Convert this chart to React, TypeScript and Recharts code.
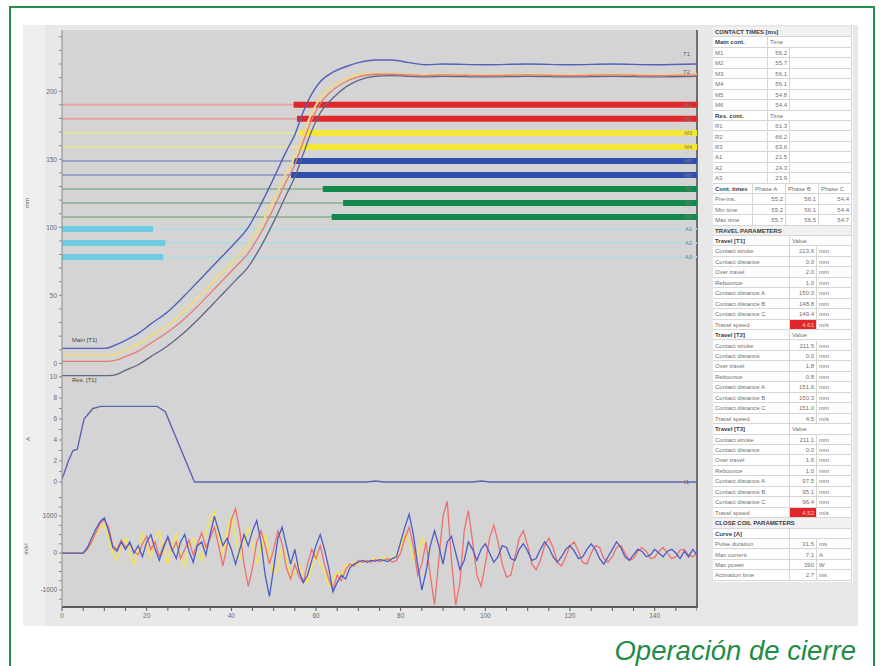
import React from "react";
import { LineChart, Line, XAxis, YAxis, ReferenceLine } from "recharts";

// ---- travel (mm) vs time (ms) ----
const TRAVEL_T = [0, 5, 10, 11, 13, 15, 18, 21, 25, 29, 33, 37, 41, 44, 47, 50, 53, 55, 57, 59, 61, 64, 67, 70, 74, 78, 82, 86, 90, 100, 110, 120, 130, 140, 150];
const TRAVEL_MAIN = [11, 11, 11, 11.5, 14, 17, 22, 29, 38, 50, 63, 76, 89, 100, 117, 136, 156, 168, 185, 198, 207, 214, 218, 221, 223, 223, 221, 219.5, 220, 219.5, 220, 219.5, 220, 219.5, 220];
const TRAVEL_YELLOW = [6, 6, 6, 6, 7, 10, 14, 20, 28, 39, 51, 64, 77, 87, 102, 120, 140, 152, 168, 184, 195, 204, 209, 212, 213, 213, 212.5, 212, 212.5, 212, 212.5, 212, 212.5, 212, 212.5];
const TRAVEL_RED = [1.5, 1.5, 1.5, 1.5, 2.5, 5, 9, 15, 23, 33, 45, 58, 71, 81, 96, 114, 134, 146, 163, 179, 191, 201, 207, 210.5, 212.5, 212.5, 212, 211.5, 212, 211.5, 212, 211.5, 212, 211.5, 212];
const TRAVEL_RES = [-9, -9, -9, -9, -8, -5, -1, 5, 13, 23, 35, 48, 61, 71, 86, 104, 124, 137, 154, 171, 184, 195, 203, 208, 211, 211.5, 211, 210.5, 211, 210.5, 211, 210.5, 211, 210.5, 211];
const TRAVEL_TICKS = [-10, 0, 10, 20, 30, 40, 50, 60, 70, 80, 90, 100, 110, 120, 130, 140, 150, 160, 170, 180, 190, 200, 210, 220, 230, 240];

// ---- contact channels drawn on the travel panel ----
const CONTACT_NAMES = ["M1", "M2", "M3", "M4", "M5", "M6", "R1", "R2", "R3", "A1", "A2", "A3"];
const CONTACT_LEVEL = [190, 179.7, 169.4, 159.1, 148.8, 138.5, 128.2, 117.9, 107.6, 98.8, 88.5, 78.2];
const CONTACT_FROM = [54.7, 55.5, 56.2, 56.5, 54.7, 54.1, 61.6, 66.4, 63.7, 0, 0, 0];
const CONTACT_TO = [150, 150, 150, 150, 150, 150, 150, 150, 150, 21.5, 24.4, 23.9];
const CONTACT_COLOR = ["#e2272b", "#e2272b", "#f3e835", "#f3e835", "#2e4eb0", "#2e4eb0", "#128a4c", "#128a4c", "#128a4c", "#6fcbe3", "#6fcbe3", "#6fcbe3"];
const CONTACT_THIN = ["#e7a3a0", "#e7a3a0", "#e6e2a4", "#e6e2a4", "#9ca3c9", "#9ca3c9", "#9cb8a2", "#9cb8a2", "#9cb8a2", "#b7d9e0", "#b7d9e0", "#b7d9e0"];

// ---- close coil current (A) ----
const COIL_T = [0, 0.5, 1.5, 2.6, 3.6, 5.2, 7.3, 9.2, 22.5, 24.4, 31.3, 60, 72, 74, 76, 97, 99, 101, 150];
const COIL_A = [0.3, 0.8, 2.0, 3.0, 3.1, 6.0, 7.0, 7.2, 7.2, 6.7, 0, 0, 0, 0.1, 0, 0, 0.1, 0, 0];
const COIL_TICKS = [0, 1, 2, 3, 4, 5, 6, 7, 8, 9, 10];

// ---- vibration, one sample per ms ----
const VIB_BLUE = [
  0, 0, 0, 0, 0, 0, 150, 400, 650, 850, 950,
  600, 150, 50, 300, 100, 300, 0, 200, -100, 300,
  500, 100, -200, 150, 450, 100, -150, 300, 500, 50,
  -250, 200, 300, -50, 500, 1000, 600, 200, 400, 100,
  -300, 100, 500, 200, 600, 880, 300, -600, -1170, -400,
  400, 700, 200, -300, 100, -500, -800, -600, -200, 200,
  500, 100, -400, -1050, -800, -600, -700, -400, -300, -250,
  -200, -250, -200, -220, -180, -200, -230, -150, -100, 300,
  700, 1050, 500, -300, -1000, -500, 200, 600, 200, -300,
  300, 450, 0, -450, -200, 300, 100, -200, 100, 250,
  0, -250, -100, 200, 150, -150, -200, 100, 250, 50,
  -200, -150, 100, 300, 150, -100, -250, -100, 100, 200,
  50, -150, -100, 100, 250, 100, -150, -300, -100, 100,
  300, 150, -100, -200, -50, 100, 50, -100, -50, 100,
  0, -100, 50, 100, 0, -150, 50, -100, 100, -50,
];
const VIB_RED = [
  0, 0, 0, 0, 0, 0, 100, 300, 550, 800, 900,
  700, 200, 100, 350, 150, 250, 50, -50, 250, 450,
  100, 300, -100, 200, 400, 50, 300, -150, 100, 350,
  -50, 250, 550, 150, 400, 700, 200, -350, 200, 900,
  1200, 600, -300, -900, -400, 300, 600, 200, -300, 100,
  600, 250, -400, -700, -300, -650, -800, -300, 100, -150,
  200, -300, -700, -1000, -600, -750, -450, -300, -350, -200,
  -250, -200, -250, -180, -230, -200, -150, -250, -200, 0,
  400, 700, 200, -600, -300, 300, -600, -1400, -200, 1000,
  1400, -200, -1400, -800, 600, 1150, 300, -600, -900, -300,
  400, 750, 300, -300, -650, -600, -100, 400, 600, 200,
  -300, -450, -200, 200, 400, 150, -250, -350, -100, 200,
  300, 50, -250, -300, 0, 200, 150, -150, -250, -100,
  150, 200, 0, -200, -150, 50, 150, 50, -150, -120,
  50, 150, 0, -150, -100, 80, 100, -50, -100, 0,
];
const VIB_YELLOW = [
  0, 0, 0, 0, 0, 0, 100, 300, 500, 700, 750,
  400, 0, -200, 200, 400, 0, -300, 100, 500, 200,
  -100, 400, 600, 100, -300, 250, 500, -100, -350, 200,
  400, 0, -200, 500, 900, 1100, 500, 0, 600, 1000,
  400, -200, 300, 700, 200, -300, 100, 500, 0, -600,
  -400, 200, -200, -700, -500, -300, -600, -800, -400, 0,
  -300, -500, -900, -700, -500, -600, -300, -350, -250, -300,
  -200, -250, -200, -150, -200, -100, -200, -150, -50, 200,
  500, 300, -200, -100, 400, 200, -100,
];
const VIB_STEP_MS = 1;
const VIB_TICKS = [-1250, -1000, -750, -500, -250, 0, 250, 500, 750, 1000, 1250, 1500];
const TIME_TICKS = [0, 5, 10, 15, 20, 25, 30, 35, 40, 45, 50, 55, 60, 65, 70, 75, 80, 85, 90, 95, 100, 105, 110, 115, 120, 125, 130, 135, 140, 145, 150];

// ---- side table ----
const MAIN_TIMES = [["M1", "56.2"], ["M2", "55.7"], ["M3", "56.1"], ["M4", "56.1"], ["M5", "54.8"], ["M6", "54.4"]];
const RES_TIMES = [["R1", "61.3"], ["R2", "66.2"], ["R3", "63.6"], ["A1", "21.5"], ["A2", "24.3"], ["A3", "23.9"]];
const PHASE_ROWS = [["Pre-ins.", "55.2", "56.1", "54.4"], ["Min time", "55.2", "56.1", "54.4"], ["Max time", "55.7", "56.5", "54.7"]];
const TRAVEL_T1 = [["Contact stroke", "213.6", "mm"], ["Contact distance", "0.0", "mm"], ["Over travel", "2.0", "mm"], ["Rebounce", "1.0", "mm"], ["Contact distance A", "150.0", "mm"], ["Contact distance B", "148.8", "mm"], ["Contact distance C", "149.4", "mm"]];
const TRAVEL_T2 = [["Contact stroke", "211.5", "mm"], ["Contact distance", "0.0", "mm"], ["Over travel", "1.8", "mm"], ["Rebounce", "0.8", "mm"], ["Contact distance A", "151.6", "mm"], ["Contact distance B", "150.3", "mm"], ["Contact distance C", "151.0", "mm"]];
const TRAVEL_T3 = [["Contact stroke", "211.1", "mm"], ["Contact distance", "0.0", "mm"], ["Over travel", "1.6", "mm"], ["Rebounce", "1.0", "mm"], ["Contact distance A", "97.5", "mm"], ["Contact distance B", "95.1", "mm"], ["Contact distance C", "96.4", "mm"]];
const COIL_ROWS = [["Pulse duration", "31.5", "ms"], ["Max current", "7.1", "A"], ["Max power", "390", "W"], ["Activation time", "2.7", "ms"]];

const travelData = TRAVEL_T.map((t, i) => ({
  t,
  main: TRAVEL_MAIN[i],
  yellow: TRAVEL_YELLOW[i],
  red: TRAVEL_RED[i],
  res: TRAVEL_RES[i],
}));
const coilData = COIL_T.map((t, i) => ({ t, a: COIL_A[i] }));
const vibData = VIB_BLUE.map((b, i) => ({
  t: i * VIB_STEP_MS,
  blue: b,
  red: VIB_RED[i],
  yellow: i < VIB_YELLOW.length ? VIB_YELLOW[i] : null,
}));

const tickFont = { fontSize: 6.5, fill: "#6a6a6a", fontFamily: "Liberation Sans, Arial, sans-serif" };
const axisGray = { stroke: "#8c8c8c" };

// table geometry
const ROW_H = 10.45;
const TAB_X = 713;
type Cell = { text: string; x: number; w: number; bold?: boolean; align?: "left" | "right"; bg?: string; color?: string };

function buildRows() {
  const rows: Cell[][] = [];
  const title = (s: string) => rows.push([{ text: s, x: 0, w: 139, bold: true, bg: "#f1f1f1" }]);
  const head = (a: string, b: string, split: number) =>
    rows.push([{ text: a, x: 0, w: split, bold: true }, { text: b, x: split, w: 139 - split }]);
  const time = (a: string, b: string) =>
    rows.push([{ text: a, x: 0, w: 55 }, { text: b, x: 55, w: 22, align: "right" }, { text: "", x: 77, w: 62 }]);
  const param = (a: string[], red?: boolean) =>
    rows.push([
      { text: a[0], x: 0, w: 77 },
      { text: a[1], x: 77, w: 27, align: "right", bg: red ? "#e3262a" : undefined, color: red ? "#f8c9c9" : undefined },
      { text: a[2], x: 104, w: 35 },
    ]);

  title("CONTACT TIMES [ms]");
  head("Main cont.", "Time", 55);
  MAIN_TIMES.forEach((r) => time(r[0], r[1]));
  head("Res. cont.", "Time", 55);
  RES_TIMES.forEach((r) => time(r[0], r[1]));
  rows.push([
    { text: "Cont. times", x: 0, w: 40, bold: true },
    { text: "Phase A", x: 40, w: 33 },
    { text: "Phase B", x: 73, w: 33 },
    { text: "Phase C", x: 106, w: 33 },
  ]);
  PHASE_ROWS.forEach((r) =>
    rows.push([
      { text: r[0], x: 0, w: 40 },
      { text: r[1], x: 40, w: 33, align: "right" },
      { text: r[2], x: 73, w: 33, align: "right" },
      { text: r[3], x: 106, w: 33, align: "right" },
    ])
  );
  title("TRAVEL PARAMETERS");
  head("Travel [T1]", "Value", 77);
  TRAVEL_T1.forEach((r) => param(r));
  param(["Travel speed", "4.61", "m/s"], true);
  head("Travel [T2]", "Value", 77);
  TRAVEL_T2.forEach((r) => param(r));
  param(["Travel speed", "4.5", "m/s"]);
  head("Travel [T3]", "Value", 77);
  TRAVEL_T3.forEach((r) => param(r));
  param(["Travel speed", "4.52", "m/s"], true);
  title("CLOSE COIL PARAMETERS");
  head("Curve [A]", "", 77);
  COIL_ROWS.forEach((r) => param(r));
  return rows;
}

function SideTable() {
  const rows = buildRows();
  return (
    <div style={{ position: "absolute", left: TAB_X, top: 27, width: 140, height: rows.length * ROW_H + 1, background: "#fbfbfb" }}>
      {rows.map((cells, i) =>
        cells.map((c, j) => (
          <div
            key={`${i}-${j}`}
            style={{
              position: "absolute",
              left: c.x,
              top: i * ROW_H,
              width: c.w,
              height: ROW_H,
              boxSizing: "border-box",
              borderRight: "1px solid #d6d6d6",
              borderBottom: "1px solid #d6d6d6",
              background: c.bg || "#ffffff",
              fontSize: 6,
              lineHeight: `${ROW_H}px`,
              padding: "0 2px",
              color: c.color || (c.bold ? "#3c3c3c" : "#707070"),
              fontWeight: c.bold ? "bold" : "normal",
              textAlign: c.align || "left",
              whiteSpace: "nowrap",
              overflow: "hidden",
            }}
          >
            {c.text}
          </div>
        ))
      )}
    </div>
  );
}

function TravelChart() {
  return (
    <LineChart width={675} height={347} data={travelData} margin={{ top: 0, right: 0, bottom: 0, left: 0 }}>
      <XAxis type="number" dataKey="t" domain={[0, 150]} hide allowDataOverflow />
      <YAxis
        type="number"
        domain={[-10, 245]}
        ticks={TRAVEL_TICKS}
        interval={0}
        width={40}
        tick={tickFont}
        tickSize={3}
        axisLine={axisGray}
        tickLine={axisGray}
        tickFormatter={(v: number) => (v % 50 === 0 ? String(v) : "")}
        allowDataOverflow
      />
      {CONTACT_LEVEL.map((lvl, i) => (
        <ReferenceLine
          key={`thin-${i}`}
          y={lvl}
          stroke={CONTACT_THIN[i]}
          strokeWidth={2}
          label={{ value: CONTACT_NAMES[i], position: "insideRight", fontSize: 5.5, fill: "#7a7a7a" }}
        />
      ))}
      {CONTACT_LEVEL.map((lvl, i) => (
        <ReferenceLine
          key={`bar-${i}`}
          segment={[
            { x: CONTACT_FROM[i], y: lvl },
            { x: CONTACT_TO[i], y: lvl },
          ]}
          stroke={CONTACT_COLOR[i]}
          strokeWidth={6}
        />
      ))}
      <Line type="monotone" dataKey="res" stroke="#5f6788" strokeWidth={1.3} dot={false} isAnimationActive={false} />
      <Line type="monotone" dataKey="yellow" stroke="#ecd98a" strokeWidth={2.2} dot={false} isAnimationActive={false} />
      <Line type="monotone" dataKey="red" stroke="#e77a72" strokeWidth={1.3} dot={false} isAnimationActive={false} />
      <Line type="monotone" dataKey="main" stroke="#5262b8" strokeWidth={1.4} dot={false} isAnimationActive={false} />
    </LineChart>
  );
}

function CoilChart() {
  return (
    <LineChart width={675} height={123} data={coilData} margin={{ top: 5, right: 0, bottom: 0, left: 0 }}>
      <XAxis type="number" dataKey="t" domain={[0, 150]} hide allowDataOverflow />
      <YAxis
        type="number"
        domain={[-1.24, 10]}
        ticks={COIL_TICKS}
        interval={0}
        width={40}
        tick={tickFont}
        tickSize={3}
        axisLine={axisGray}
        tickLine={axisGray}
        tickFormatter={(v: number) => (v % 2 === 0 ? String(v) : "")}
        allowDataOverflow
      />
      <Line type="linear" dataKey="a" stroke="#5c64b0" strokeWidth={1.4} dot={false} isAnimationActive={false} />
    </LineChart>
  );
}

function VibChart() {
  return (
    <LineChart width={675} height={134} data={vibData} margin={{ top: 0, right: 0, bottom: 0, left: 0 }}>
      <XAxis
        type="number"
        dataKey="t"
        domain={[0, 150]}
        ticks={TIME_TICKS}
        interval={0}
        height={22}
        tick={tickFont}
        tickSize={4}
        axisLine={{ stroke: "#5a5a5a", strokeWidth: 2 }}
        tickLine={{ stroke: "#5a5a5a" }}
        tickFormatter={(v: number) => (v % 20 === 0 ? String(v) : "")}
        allowDataOverflow
      />
      <YAxis
        type="number"
        domain={[-1460, 1570]}
        ticks={VIB_TICKS}
        interval={0}
        width={40}
        tick={tickFont}
        tickSize={3}
        axisLine={axisGray}
        tickLine={axisGray}
        tickFormatter={(v: number) => (v % 1000 === 0 ? String(v) : "")}
        allowDataOverflow
      />
      <Line type="linear" dataKey="yellow" stroke="#f2e45a" strokeWidth={1.6} dot={false} isAnimationActive={false} />
      <Line type="linear" dataKey="red" stroke="#ef6f6c" strokeWidth={1.3} dot={false} isAnimationActive={false} />
      <Line type="linear" dataKey="blue" stroke="#4b5cc4" strokeWidth={1.3} dot={false} isAnimationActive={false} />
    </LineChart>
  );
}

const small = (extra: React.CSSProperties): React.CSSProperties => ({
  position: "absolute",
  fontSize: 6,
  color: "#666",
  whiteSpace: "nowrap",
  ...extra,
});

export default function App() {
  return (
    <div
      style={{
        position: "absolute",
        left: 0,
        top: 0,
        width: 881,
        height: 666,
        overflow: "hidden",
        background: "#ffffff",
        fontFamily: "Liberation Sans, Arial, sans-serif",
      }}
    >
      {/* green frame */}
      <div style={{ position: "absolute", left: 9, top: 6, width: 866, height: 700, boxSizing: "border-box", border: "2px solid #23904d" }} />

      {/* screenshot panel */}
      <div style={{ position: "absolute", left: 23, top: 25, width: 835, height: 601, background: "#e8e8e8" }} />
      <div style={{ position: "absolute", left: 23, top: 25, width: 22, height: 601, background: "#efefef" }} />
      <div style={{ position: "absolute", left: 62, top: 30, width: 635, height: 577, background: "#d4d4d4" }} />
      <div style={{ position: "absolute", left: 696, top: 30, width: 2, height: 578, background: "#6e6e6e" }} />

      <div style={{ position: "absolute", left: 22, top: 30 }}>
        <TravelChart />
      </div>
      <div style={{ position: "absolute", left: 22, top: 372 }}>
        <CoilChart />
      </div>
      <div style={{ position: "absolute", left: 22, top: 495 }}>
        <VibChart />
      </div>

      {/* axis names and curve tags */}
      <div style={small({ left: 22, top: 200, transform: "rotate(-90deg)" })}>mm</div>
      <div style={small({ left: 26, top: 436, transform: "rotate(-90deg)" })}>A</div>
      <div style={small({ left: 20, top: 546, transform: "rotate(-90deg)" })}>m/s²</div>
      <div style={small({ left: 72, top: 337, color: "#444" })}>Main [T1]</div>
      <div style={small({ left: 72, top: 377, color: "#444" })}>Res. [T1]</div>
      <div style={small({ left: 683, top: 51 })}>T1</div>
      <div style={small({ left: 683, top: 69 })}>T2</div>
      <div style={small({ left: 684, top: 479 })}>I1</div>

      <SideTable />

      <div
        style={{
          position: "absolute",
          right: 25,
          top: 637,
          fontSize: 27.5,
          lineHeight: 1,
          fontStyle: "italic",
          color: "#1f8c47",
          whiteSpace: "nowrap",
        }}
      >
        Operación de cierre
      </div>
    </div>
  );
}
